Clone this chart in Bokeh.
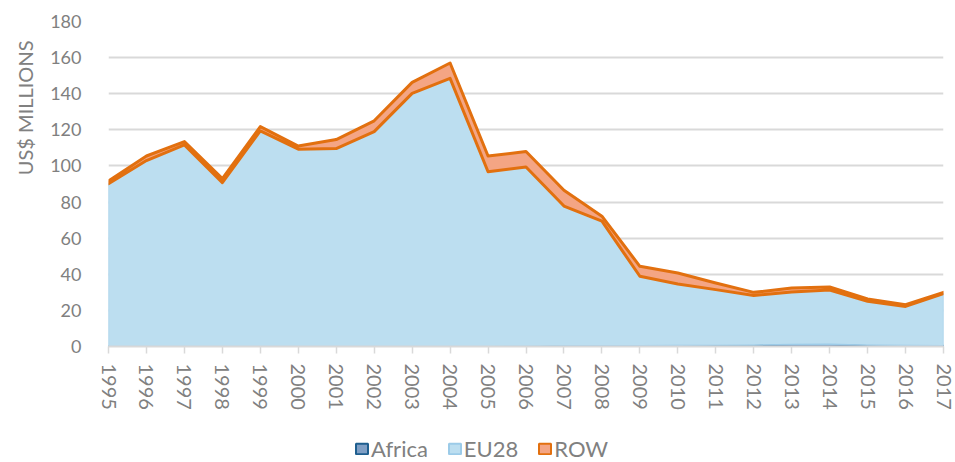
import numpy as np
from bokeh.plotting import figure
from bokeh.layouts import column
from bokeh.models import Range1d, FixedTicker, Legend, LegendItem, Title
from bokeh.embed import file_html
from bokeh.resources import INLINE

years = list(range(1995, 2018))
tick_labels = [str(y) for y in years]
y_ticks = [0, 20, 40, 60, 80, 100, 120, 140, 160, 180]
series_names = ["Africa", "EU28", "ROW"]

africa = [0.1, 0.1, 0.1, 0.1, 0.1, 0.1, 0.1, 0.1, 0.1, 0.1, 0.1, 0.2,
          0.5, 0.5, 0.5, 0.6, 0.7, 0.8, 1.2, 1.3, 0.8, 0.6, 0.5]
eu28 = [90.1, 102.9, 111.6, 90.6, 119.3, 109.2, 109.5, 118.9, 140.1, 148.4, 96.7, 99.2,
        77.3, 68.9, 38.4, 34.0, 30.8, 27.5, 29.0, 30.0, 24.2, 21.6, 28.8]
row = [1.5, 2.5, 1.8, 2.3, 2.4, 1.7, 5.0, 6.0, 6.1, 8.5, 8.7, 8.6,
       8.7, 2.8, 5.5, 6.1, 3.7, 1.7, 2.2, 1.7, 1.3, 1.0, 0.7]

fill_colors = ["#7f9fc5", "#bcdef0", "#f4a584"]
line_colors = ["#1f5f8f", "#9ccbe8", "#e2700f"]
line_widths = [1.5, 1.2, 3]

FONT = "Lato"
GREY = "#808080"

p = figure(width=955, height=436, output_backend="svg", toolbar_location=None,
           x_range=Range1d(1995, 2017), y_range=Range1d(0, 180),
           min_border_left=104, min_border_right=12, min_border_top=21,
           min_border_bottom=90)
p.outline_line_color = None
p.background_fill_color = "white"

x = np.array(years, dtype=float)
base = np.zeros(len(years))
shapes = []
for name, vals, fc, lc, lw in zip(series_names, [africa, eu28, row],
                                  fill_colors, line_colors, line_widths):
    top = base + np.array(vals)
    xs = np.concatenate([x, x[::-1]])
    ys = np.concatenate([top, base[::-1]])
    shapes.append((xs, ys))
    p.patch(xs, ys, fill_color=fc, line_color=lc, line_width=lw, line_join="round")
    base = top

# grid
p.xgrid.visible = False
p.ygrid.grid_line_color = "#d9d9d9"
p.ygrid.grid_line_width = 2
p.ygrid.ticker = FixedTicker(ticks=y_ticks)

# y axis
p.yaxis.ticker = FixedTicker(ticks=y_ticks)
p.yaxis.axis_line_color = None
p.yaxis.major_tick_line_color = None
p.yaxis.minor_tick_line_color = None
p.yaxis.major_label_text_font = FONT
p.yaxis.major_label_text_font_size = "18px"
p.yaxis.major_label_text_color = GREY
p.yaxis.major_label_standoff = 21

# x axis
p.xaxis.ticker = FixedTicker(ticks=years)
p.xaxis.major_label_overrides = {y: t for y, t in zip(years, tick_labels)}
p.xaxis.major_label_orientation = "vertical"
p.xaxis.axis_line_color = "#d9d9d9"
p.xaxis.axis_line_width = 2
p.xaxis.major_tick_line_color = "#d9d9d9"
p.xaxis.major_tick_line_width = 1.5
p.xaxis.major_tick_out = 7
p.xaxis.major_tick_in = 0
p.xaxis.minor_tick_line_color = None
p.xaxis.major_label_text_font = FONT
p.xaxis.major_label_text_font_size = "20px"
p.xaxis.major_label_text_color = GREY
p.xaxis.major_label_standoff = 10

# y axis title (aligned toward the top like the reference)
p.add_layout(Title(text="US$ MILLIONS", align="right", offset=19,
                   text_font=FONT, text_font_size="20px", text_font_style="normal",
                   text_color=GREY, standoff=21), "left")

# legend strip (its renderers carry the same data, outside this strip's view)
lg = figure(width=955, height=26, output_backend="svg", toolbar_location=None,
            x_range=Range1d(0, 1), y_range=Range1d(0, 1),
            x_axis_type=None, y_axis_type=None, min_border=0)
lg.outline_line_color = None
lg.xgrid.visible = False
lg.ygrid.visible = False
items = []
for name, (xs, ys), fc, lc in zip(series_names, shapes, fill_colors, line_colors):
    r = lg.patch(xs, ys, fill_color=fc, line_color=lc, line_width=2)
    items.append(LegendItem(label=name, renderers=[r]))
legend = Legend(items=items, orientation="horizontal", location=(246, 0),
                glyph_width=15, glyph_height=13, label_standoff=2, spacing=19,
                padding=1, margin=0, border_line_color=None,
                background_fill_alpha=0,
                label_text_font=FONT, label_text_font_size="22px",
                label_text_color=GREY)
lg.add_layout(legend)

layout = column(p, lg, spacing=0)
open("out.html", "w").write(file_html(layout, INLINE))
